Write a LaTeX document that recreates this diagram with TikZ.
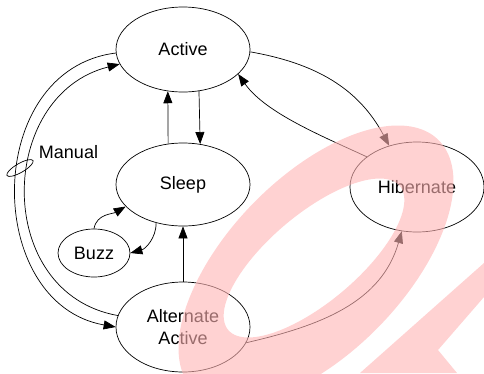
\documentclass[tikz,border=0pt]{standalone}
\usepackage{fontspec}
\setmainfont{Liberation Sans}
\usetikzlibrary{shapes.geometric,arrows.meta}
\definecolor{markpink}{RGB}{255,180,180}
\begin{document}
\begin{tikzpicture}[x=1pt,y=-1pt,
  state/.style={draw, ellipse, line width=0.7pt, inner sep=0pt, font=\fontsize{18}{22}\selectfont, align=center},
  arr/.style={-{Triangle[length=12pt,width=9pt]}, line width=0.7pt},
  ln/.style={line width=0.7pt},
  wmark/.style={fill=markpink, fill opacity=0.6, draw=none}]
\useasboundingbox (0,0) rectangle (484,373);
\node[state, minimum width=134pt, minimum height=85pt] (active) at (183,49.5) {Active};
\node[state, minimum width=134pt, minimum height=83pt] (sleep) at (183,184.5) {Sleep};
\node[state, minimum width=72pt, minimum height=48pt] (buzz) at (94,253) {Buzz};
\node[state, minimum width=134pt, minimum height=90pt] (hib) at (417,187) {Hibernate};
\node[state, minimum width=134pt, minimum height=90pt] (alt) at (183,327) {Alternate\\Active};
\node[font=\fontsize{18}{22}\selectfont, inner sep=0pt] (manual) at (68.5,152) {Manual};
\node[draw, ellipse, line width=0.7pt, inner sep=0pt, minimum width=30pt, minimum height=9pt, rotate=30] (mring) at (20,168) {};

% vertical arrows
\draw[arr] (sleep.110.3) -- (active.250.1);
\draw[arr] (active.291.8) -- (sleep.67.7);
\draw[arr] (alt.north) -- (sleep.south);
% buzz loop
\draw[arr] (buzz.north) to[out=80,in=210] (sleep.201.2);
\draw[arr] (sleep.235.6) to[out=-90,in=15] (buzz.east);
% hibernate
\draw[arr] (active.358) to[out=-10,in=118] (hib.124.6);
\draw[arr] (hib.149) to[out=155,in=-55,looseness=0.8] (active.336.6);
\draw[arr] (alt.346.8) to[out=13,in=-106] (hib.251.6);
% manual pair
\draw[arr] (active.183) to[out=187,in=170,looseness=1.26] (alt.west);
\draw[arr] (alt.170) to[out=170,in=194,looseness=1.29] (active.193);

% watermark overlay
\begin{scope}
\clip (0,0) rectangle (484,373);
\fill[wmark, even odd rule]
  plot[domain=0:360, samples=120, smooth cycle] ({316+175*cos(\x)*0.6984-88*sin(\x)*0.7157}, {265-(175*cos(\x)*0.7157+88*sin(\x)*0.6984)})
  plot[domain=0:360, samples=120, smooth cycle] ({314+112*cos(\x)*0.766-44*sin(\x)*0.6428}, {258-(112*cos(\x)*0.6428+44*sin(\x)*0.766)});
\fill[wmark] (360,373) -- (484,263) -- (484,297) -- (438,350) -- (457,373) -- cycle;
\end{scope}
\end{tikzpicture}
\end{document}
